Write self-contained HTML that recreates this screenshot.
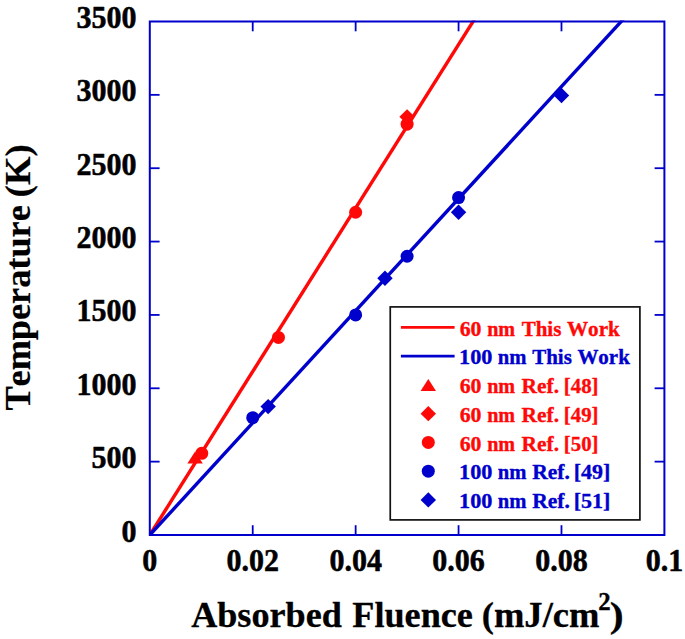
<!DOCTYPE html>
<html><head><meta charset="utf-8"><style>
html,body{margin:0;padding:0;background:#fff;}
body{width:685px;height:639px;overflow:hidden;}
svg{display:block;}
text{font-family:"Liberation Serif",serif;font-weight:bold;font-kerning:none;font-feature-settings:"kern" 0;stroke-linejoin:round;}
</style></head><body>
<svg width="685" height="639" viewBox="0 0 685 639">
<defs><clipPath id="pc"><rect x="148.80" y="20.50" width="516.60" height="515.50"/></clipPath></defs>
<rect width="685" height="639" fill="#fff"/>
<g><g clip-path="url(#pc)"><line x1="149.80" y1="535.00" x2="482.75" y2="6.10" stroke="#ff0808" stroke-width="3.4"/><line x1="149.80" y1="535.00" x2="635.32" y2="6.10" stroke="#0000cc" stroke-width="3.4"/></g><path d="M195.08 451.50L202.78 463.50L187.38 463.50Z" fill="#ff0808"/><circle cx="201.77" cy="453.28" r="6.5" fill="#ff0808"/><circle cx="278.45" cy="337.38" r="6.5" fill="#ff0808"/><circle cx="355.64" cy="212.23" r="6.5" fill="#ff0808"/><circle cx="407.10" cy="124.20" r="6.5" fill="#ff0808"/><path d="M407.10 109.16L414.80 116.86L407.10 124.56L399.40 116.86Z" fill="#ff0808"/><circle cx="252.72" cy="417.63" r="6.5" fill="#0000cc"/><path d="M268.16 398.93L275.86 406.62L268.16 414.32L260.46 406.62Z" fill="#0000cc"/><circle cx="355.64" cy="314.93" r="6.5" fill="#0000cc"/><path d="M384.97 270.55L392.67 278.25L384.97 285.95L377.27 278.25Z" fill="#0000cc"/><circle cx="407.10" cy="256.24" r="6.5" fill="#0000cc"/><circle cx="458.56" cy="197.56" r="6.5" fill="#0000cc"/><path d="M458.56 204.53L466.26 212.23L458.56 219.93L450.86 212.23Z" fill="#0000cc"/><path d="M561.48 87.74L569.18 95.44L561.48 103.14L553.78 95.44Z" fill="#0000cc"/></g>
<g><rect x="149.8" y="21.5" width="514.60" height="513.50" fill="none" stroke="#0000cc" stroke-width="2"/><line x1="252.72" y1="535.0" x2="252.72" y2="525.2" stroke="#0000cc" stroke-width="1.8"/><line x1="252.72" y1="21.5" x2="252.72" y2="31.3" stroke="#0000cc" stroke-width="1.8"/><line x1="355.64" y1="535.0" x2="355.64" y2="525.2" stroke="#0000cc" stroke-width="1.8"/><line x1="355.64" y1="21.5" x2="355.64" y2="31.3" stroke="#0000cc" stroke-width="1.8"/><line x1="458.56" y1="535.0" x2="458.56" y2="525.2" stroke="#0000cc" stroke-width="1.8"/><line x1="458.56" y1="21.5" x2="458.56" y2="31.3" stroke="#0000cc" stroke-width="1.8"/><line x1="561.48" y1="535.0" x2="561.48" y2="525.2" stroke="#0000cc" stroke-width="1.8"/><line x1="561.48" y1="21.5" x2="561.48" y2="31.3" stroke="#0000cc" stroke-width="1.8"/><line x1="149.8" y1="461.64" x2="159.60000000000002" y2="461.64" stroke="#0000cc" stroke-width="1.8"/><line x1="664.4" y1="461.64" x2="654.6" y2="461.64" stroke="#0000cc" stroke-width="1.8"/><line x1="149.8" y1="388.29" x2="159.60000000000002" y2="388.29" stroke="#0000cc" stroke-width="1.8"/><line x1="664.4" y1="388.29" x2="654.6" y2="388.29" stroke="#0000cc" stroke-width="1.8"/><line x1="149.8" y1="314.93" x2="159.60000000000002" y2="314.93" stroke="#0000cc" stroke-width="1.8"/><line x1="664.4" y1="314.93" x2="654.6" y2="314.93" stroke="#0000cc" stroke-width="1.8"/><line x1="149.8" y1="241.57" x2="159.60000000000002" y2="241.57" stroke="#0000cc" stroke-width="1.8"/><line x1="664.4" y1="241.57" x2="654.6" y2="241.57" stroke="#0000cc" stroke-width="1.8"/><line x1="149.8" y1="168.21" x2="159.60000000000002" y2="168.21" stroke="#0000cc" stroke-width="1.8"/><line x1="664.4" y1="168.21" x2="654.6" y2="168.21" stroke="#0000cc" stroke-width="1.8"/><line x1="149.8" y1="94.86" x2="159.60000000000002" y2="94.86" stroke="#0000cc" stroke-width="1.8"/><line x1="664.4" y1="94.86" x2="654.6" y2="94.86" stroke="#0000cc" stroke-width="1.8"/></g>
<g font-size="30" fill="#000" stroke="#000" stroke-width="0.5"><text transform="translate(136.6 541.50) scale(1 1.08)" text-anchor="end">0</text><text transform="translate(136.6 468.14) scale(1 1.08)" text-anchor="end">500</text><text transform="translate(136.6 394.79) scale(1 1.08)" text-anchor="end">1000</text><text transform="translate(136.6 321.43) scale(1 1.08)" text-anchor="end">1500</text><text transform="translate(136.6 248.07) scale(1 1.08)" text-anchor="end">2000</text><text transform="translate(136.6 174.71) scale(1 1.08)" text-anchor="end">2500</text><text transform="translate(136.6 101.36) scale(1 1.08)" text-anchor="end">3000</text><text transform="translate(136.6 28.00) scale(1 1.08)" text-anchor="end">3500</text><text transform="translate(149.80 571) scale(1 1.08)" text-anchor="middle">0</text><text transform="translate(252.72 571) scale(1 1.08)" text-anchor="middle">0.02</text><text transform="translate(355.64 571) scale(1 1.08)" text-anchor="middle">0.04</text><text transform="translate(458.56 571) scale(1 1.08)" text-anchor="middle">0.06</text><text transform="translate(561.48 571) scale(1 1.08)" text-anchor="middle">0.08</text><text transform="translate(664.40 571) scale(1 1.08)" text-anchor="middle">0.1</text></g>
<g><rect x="390.25" y="306.9" width="249.65" height="213.00" fill="#fff" stroke="#111" stroke-width="1.7"/><line x1="400.9" y1="327.40" x2="454.6" y2="327.40" stroke="#ff0808" stroke-width="2.7"/><text x="459.66" y="335.60" font-size="21" textLength="21.77" lengthAdjust="spacingAndGlyphs" fill="#ff0808" stroke="#ff0808" stroke-width="0.35">60</text><text x="487.16" y="335.60" font-size="21" textLength="27.99" lengthAdjust="spacingAndGlyphs" fill="#ff0808" stroke="#ff0808" stroke-width="0.35">nm</text><text x="521.67" y="335.60" font-size="21" textLength="39.74" lengthAdjust="spacingAndGlyphs" fill="#ff0808" stroke="#ff0808" stroke-width="0.35">This</text><text x="566.90" y="335.60" font-size="21" textLength="52.93" lengthAdjust="spacingAndGlyphs" fill="#ff0808" stroke="#ff0808" stroke-width="0.35">Work</text><line x1="400.9" y1="356.15" x2="454.6" y2="356.15" stroke="#0000cc" stroke-width="2.7"/><text x="459.12" y="364.35" font-size="21" textLength="33.33" lengthAdjust="spacingAndGlyphs" fill="#0000cc" stroke="#0000cc" stroke-width="0.35">100</text><text x="497.75" y="364.35" font-size="21" textLength="28.71" lengthAdjust="spacingAndGlyphs" fill="#0000cc" stroke="#0000cc" stroke-width="0.35">nm</text><text x="532.17" y="364.35" font-size="21" textLength="39.74" lengthAdjust="spacingAndGlyphs" fill="#0000cc" stroke="#0000cc" stroke-width="0.35">This</text><text x="577.40" y="364.35" font-size="21" textLength="52.43" lengthAdjust="spacingAndGlyphs" fill="#0000cc" stroke="#0000cc" stroke-width="0.35">Work</text><path d="M428.30 378.90L436.00 390.90L420.60 390.90Z" fill="#ff0808"/><text x="459.66" y="393.10" font-size="21" textLength="21.77" lengthAdjust="spacingAndGlyphs" fill="#ff0808" stroke="#ff0808" stroke-width="0.35">60</text><text x="487.16" y="393.10" font-size="21" textLength="27.99" lengthAdjust="spacingAndGlyphs" fill="#ff0808" stroke="#ff0808" stroke-width="0.35">nm</text><text x="521.63" y="393.10" font-size="21" textLength="37.41" lengthAdjust="spacingAndGlyphs" fill="#ff0808" stroke="#ff0808" stroke-width="0.35">Ref.</text><text x="563.85" y="393.10" font-size="21" textLength="34.69" lengthAdjust="spacingAndGlyphs" fill="#ff0808" stroke="#ff0808" stroke-width="0.35">[48]</text><path d="M428.30 405.95L436.00 413.65L428.30 421.35L420.60 413.65Z" fill="#ff0808"/><text x="459.66" y="421.85" font-size="21" textLength="21.77" lengthAdjust="spacingAndGlyphs" fill="#ff0808" stroke="#ff0808" stroke-width="0.35">60</text><text x="487.16" y="421.85" font-size="21" textLength="27.99" lengthAdjust="spacingAndGlyphs" fill="#ff0808" stroke="#ff0808" stroke-width="0.35">nm</text><text x="521.63" y="421.85" font-size="21" textLength="37.41" lengthAdjust="spacingAndGlyphs" fill="#ff0808" stroke="#ff0808" stroke-width="0.35">Ref.</text><text x="563.85" y="421.85" font-size="21" textLength="34.69" lengthAdjust="spacingAndGlyphs" fill="#ff0808" stroke="#ff0808" stroke-width="0.35">[49]</text><circle cx="428.30" cy="442.40" r="6.5" fill="#ff0808"/><text x="459.66" y="450.60" font-size="21" textLength="21.77" lengthAdjust="spacingAndGlyphs" fill="#ff0808" stroke="#ff0808" stroke-width="0.35">60</text><text x="487.16" y="450.60" font-size="21" textLength="27.99" lengthAdjust="spacingAndGlyphs" fill="#ff0808" stroke="#ff0808" stroke-width="0.35">nm</text><text x="521.63" y="450.60" font-size="21" textLength="37.41" lengthAdjust="spacingAndGlyphs" fill="#ff0808" stroke="#ff0808" stroke-width="0.35">Ref.</text><text x="563.85" y="450.60" font-size="21" textLength="34.69" lengthAdjust="spacingAndGlyphs" fill="#ff0808" stroke="#ff0808" stroke-width="0.35">[50]</text><circle cx="428.30" cy="471.15" r="6.5" fill="#0000cc"/><text x="459.12" y="479.35" font-size="21" textLength="33.33" lengthAdjust="spacingAndGlyphs" fill="#0000cc" stroke="#0000cc" stroke-width="0.35">100</text><text x="497.75" y="479.35" font-size="21" textLength="28.71" lengthAdjust="spacingAndGlyphs" fill="#0000cc" stroke="#0000cc" stroke-width="0.35">nm</text><text x="532.23" y="479.35" font-size="21" textLength="37.72" lengthAdjust="spacingAndGlyphs" fill="#0000cc" stroke="#0000cc" stroke-width="0.35">Ref.</text><text x="573.67" y="479.35" font-size="21" textLength="36.67" lengthAdjust="spacingAndGlyphs" fill="#0000cc" stroke="#0000cc" stroke-width="0.35">[49]</text><path d="M428.30 492.20L436.00 499.90L428.30 507.60L420.60 499.90Z" fill="#0000cc"/><text x="459.12" y="508.10" font-size="21" textLength="33.33" lengthAdjust="spacingAndGlyphs" fill="#0000cc" stroke="#0000cc" stroke-width="0.35">100</text><text x="497.75" y="508.10" font-size="21" textLength="28.71" lengthAdjust="spacingAndGlyphs" fill="#0000cc" stroke="#0000cc" stroke-width="0.35">nm</text><text x="532.23" y="508.10" font-size="21" textLength="37.72" lengthAdjust="spacingAndGlyphs" fill="#0000cc" stroke="#0000cc" stroke-width="0.35">Ref.</text><text x="573.67" y="508.10" font-size="21" textLength="36.67" lengthAdjust="spacingAndGlyphs" fill="#0000cc" stroke="#0000cc" stroke-width="0.35">[51]</text></g>
<g fill="#000" stroke="#000" stroke-width="0.3"><text x="191.15" y="626.80" font-size="36.5" textLength="150.66" lengthAdjust="spacingAndGlyphs">Absorbed</text><text x="352.28" y="626.80" font-size="36.5" textLength="120.66" lengthAdjust="spacingAndGlyphs">Fluence</text><text x="481.79" y="626.80" font-size="36.5" textLength="117.63" lengthAdjust="spacingAndGlyphs">(mJ/cm</text><text x="598.26" y="610.40" font-size="24.5" textLength="12.41" lengthAdjust="spacingAndGlyphs">2</text><text x="609.76" y="626.80" font-size="36.5" textLength="13.87" lengthAdjust="spacingAndGlyphs">)</text></g>
<g fill="#000" stroke="#000" stroke-width="0.2" transform="rotate(-90)"><text x="-410.62" y="30.00" font-size="36.8" textLength="205.35" lengthAdjust="spacingAndGlyphs">Temperature</text><text x="-197.21" y="30.00" font-size="36.8" textLength="52.92" lengthAdjust="spacingAndGlyphs">(K)</text></g>
</svg>
</body></html>
